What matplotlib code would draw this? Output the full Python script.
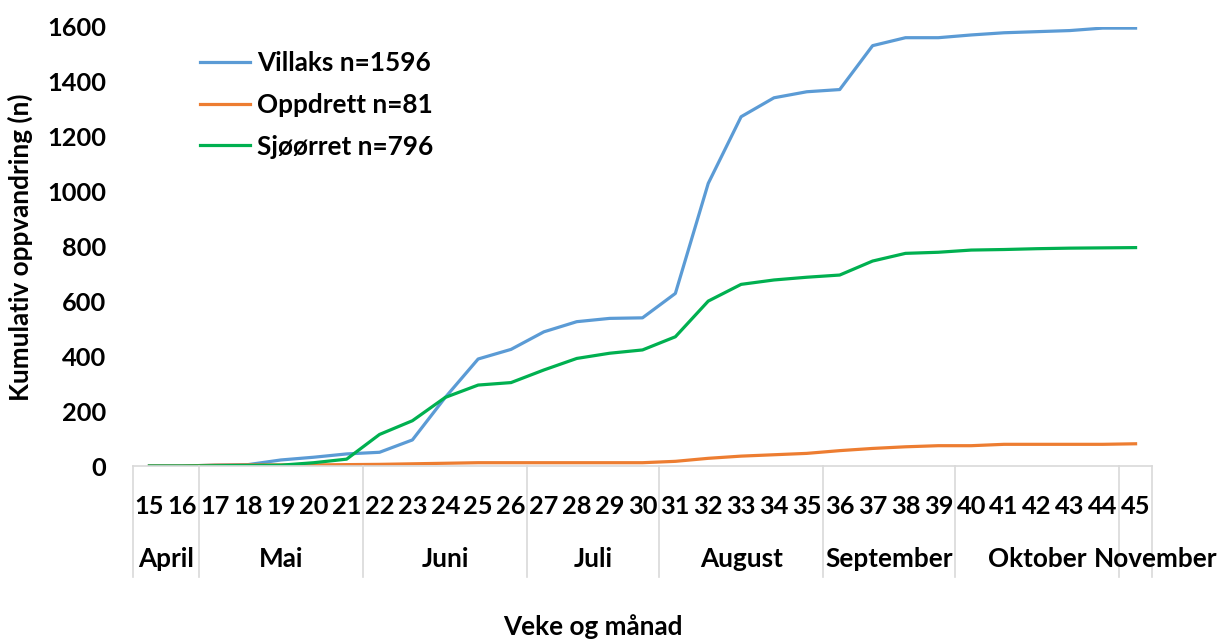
import matplotlib
matplotlib.use("Agg")
import matplotlib.pyplot as plt
import matplotlib.transforms as mtransforms

weeks = [str(w) for w in range(15, 46)]
villaks = [0, 0, 3, 5, 22, 32, 44, 50, 95, 250, 390, 425, 489, 526, 538, 540,
           629, 1030, 1273, 1342, 1364, 1372, 1532, 1561, 1561, 1571, 1579, 1583, 1587, 1596, 1596]
oppdrett = [0, 0, 3, 4, 4, 4, 5, 6, 8, 10, 12, 12, 12, 12, 12, 12,
            17, 28, 36, 41, 46, 56, 64, 70, 74, 74, 79, 79, 79, 79, 81]
sjoorret = [0, 0, 1, 2, 3, 12, 25, 115, 165, 250, 295, 304, 350, 392, 411, 423,
            471, 601, 662, 678, 688, 696, 747, 775, 779, 787, 789, 792, 794, 795, 796]
months = ["April", "Mai", "Juni", "Juli", "August", "September", "Oktober", "November"]
month_sizes = [2, 5, 5, 4, 5, 4, 5, 1]
series_labels = ["Villaks n=1596", "Oppdrett n=81", "Sjøørret n=796"]
colors = ["#5B9BD5", "#ED7D31", "#00B050"]

FS = 18.8
FSD = 18.3
plt.rcParams['font.family'] = ['Lato', 'DejaVu Sans']
plt.rcParams['font.weight'] = 'bold'

fig = plt.figure(figsize=(12.2, 6.39), dpi=100)
L, R, B, T = 133/1220, 1152/1220, (639-466)/639, (639-27)/639
ax = fig.add_axes([L, B, R-L, T-B])

x = list(range(len(weeks)))
for ys, lab, c in zip([villaks, oppdrett, sjoorret], series_labels, colors):
    ax.plot(x, ys, color=c, lw=2.3, label=lab, solid_joinstyle='round')

ax.set_xlim(-0.5, len(weeks) - 0.5)
ax.set_ylim(0, 1600)
ax.set_yticks(range(0, 1601, 200))
ax.tick_params(axis='y', length=0, pad=19, labelsize=FSD)
ax.set_xticks(x)
ax.set_xticklabels(weeks)
ax.tick_params(axis='x', length=0, pad=21, labelsize=FSD)
for lbl in ax.get_xticklabels() + ax.get_yticklabels():
    lbl.set_fontweight('bold')

for s in ['top', 'right', 'left']:
    ax.spines[s].set_visible(False)
ax.spines['bottom'].set_color('#D9D9D9')
ax.spines['bottom'].set_linewidth(1.2)

trans = mtransforms.blended_transform_factory(ax.transData, ax.transAxes)
sep_bottom = (466-577)/439
pos = -0.5
ax.plot([pos, pos], [0, sep_bottom], color='#D9D9D9', lw=1.2, transform=trans, clip_on=False)
for m, n in zip(months, month_sizes):
    center = pos + n/2
    if m == "November":
        center += 0.6
    ax.text(center, (466-559)/439, m, transform=trans, ha='center', va='center',
            fontsize=FS, fontweight='bold')
    pos += n
    ax.plot([pos, pos], [0, sep_bottom], color='#D9D9D9', lw=1.2, transform=trans, clip_on=False)

ax.set_ylabel("Kumulativ oppvandring (n)", fontsize=FS, fontweight='bold')
ax.yaxis.set_label_coords((33-133)/1019, (466-247)/439)
ax.set_xlabel("Veke og månad", fontsize=FS, fontweight='bold')
ax.xaxis.set_label_coords((593-133)/1019, (466-614)/439)

leg = ax.legend(loc='upper left', bbox_to_anchor=((200-133)/1019, (466-51)/439),
                frameon=False, fontsize=FS, handlelength=1.9, handletextpad=0.3,
                labelspacing=0.68, borderpad=0, borderaxespad=0)
for t in leg.get_texts():
    t.set_fontweight('bold')

fig.savefig("out.png", dpi=100)
